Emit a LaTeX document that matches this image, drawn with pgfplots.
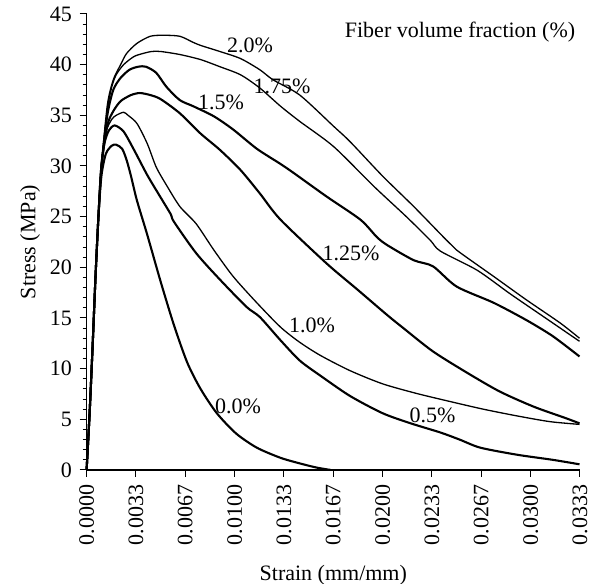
\documentclass[border=0pt]{standalone}
\usepackage{fontspec}
\setmainfont{Liberation Serif}
\usepackage{pgfplots}
\pgfplotsset{compat=1.18}
\begin{document}
\fontsize{11}{13}\selectfont
\begin{tikzpicture}
\begin{axis}[
  scale only axis,
  width=246.7pt, height=228pt,
  axis lines*=left,
  clip=false,
  xmin=0, xmax=0.0333333, ymin=0, ymax=45,
  xtick={0,0.0033333,0.0066667,0.01,0.0133333,0.0166667,0.02,0.0233333,0.0266667,0.03,0.0333333},
  xticklabels={0.0000,0.0033,0.0067,0.0100,0.0133,0.0167,0.0200,0.0233,0.0267,0.0300,0.0333},
  scaled x ticks=false,
  minor x tick num=9,
  ytick={0,5,...,45},
  minor y tick num=4,
  tick align=outside,
  major tick length=3.5pt, minor tick length=2pt,
  tick style={black, line width=0.5pt},
  axis line style={black, line width=0.6pt},
  xticklabel style={rotate=90, anchor=east},
  /pgf/number format/assume math mode=true,
  ticklabel style={font=\fontsize{11}{13}\selectfont},
  xlabel={Strain (mm/mm)},
  ylabel={Stress (MPa)},
  xlabel style={at={(axis description cs:0.5,-0.230)}, anchor=center},
  ylabel style={at={(axis description cs:-0.1147,0.5)}, anchor=center},
  every axis plot/.append style={black, line join=round, smooth, tension=0.45},
]
% 0.0%
\addplot[line width=1.05pt] coordinates {(0,0) (0.0002,5.5) (0.0004,12) (0.0006,19) (0.0008,25) (0.001,29) (0.0013,31.2) (0.0017,32) (0.002,32.1) (0.0024,31.7) (0.0027,30.6) (0.003,29) (0.0034,26.6) (0.0041,23.2) (0.005,18.6) (0.0059,14.3) (0.0068,10.6) (0.0077,8.0) (0.0088,5.6) (0.0101,3.6) (0.0115,2.2) (0.0131,1.2) (0.0144,0.65) (0.0155,0.25) (0.0165,0)};
% 0.5%
\addplot[line width=1.05pt] coordinates {(0,0) (0.0002,5.5) (0.0004,12) (0.0006,19) (0.0008,25) (0.001,29.8) (0.0012,32.2) (0.0015,33.5) (0.0019,34) (0.0025,33.4) (0.0032,31.6) (0.0041,29.1) (0.005,26.9) (0.0057,25.2) (0.0059,24.5) (0.0074,21.4) (0.009,18.8) (0.0108,16.1) (0.0117,15.1) (0.0131,12.8) (0.0144,10.8) (0.0158,9.3) (0.0178,7.3) (0.020,5.6) (0.0219,4.6) (0.0239,3.7) (0.0252,3.0) (0.0266,2.2) (0.0291,1.5) (0.0315,1.0) (0.0333,0.56)};
% 1.0%
\addplot[line width=0.65pt] coordinates {(0,0) (0.0002,5.5) (0.0004,12) (0.0006,19) (0.0008,25) (0.001,30) (0.0013,33.3) (0.0017,34.6) (0.002,35.0) (0.0025,35.3) (0.0028,35.0) (0.0034,34.2) (0.0041,32.2) (0.0047,29.9) (0.0054,28.1) (0.0063,26.0) (0.0074,24.3) (0.0086,21.7) (0.0099,19.1) (0.0115,16.5) (0.0131,14.1) (0.0144,12.6) (0.0158,11.3) (0.0178,9.8) (0.020,8.5) (0.0223,7.55) (0.0246,6.74) (0.0268,6.0) (0.0291,5.33) (0.0313,4.77) (0.0333,4.5)};
% 1.25%
\addplot[line width=1.05pt] coordinates {(0,0) (0.0002,5.5) (0.0004,12) (0.0006,19) (0.0008,25) (0.001,30) (0.0014,34) (0.0018,35.4) (0.0023,36.4) (0.003,37.0) (0.0036,37.2) (0.0043,37.0) (0.005,36.6) (0.0063,35.2) (0.0077,33.2) (0.009,31.6) (0.0104,29.6) (0.0117,27.3) (0.0131,24.7) (0.0162,20.4) (0.0183,17.8) (0.0203,15.3) (0.0214,14.0) (0.0234,11.7) (0.0257,9.6) (0.0279,7.75) (0.0302,6.25) (0.0324,5.1) (0.0333,4.6)};
% 1.5%
\addplot[line width=1.05pt] coordinates {(0,0) (0.0002,5.5) (0.0004,12) (0.0006,19) (0.0008,25) (0.001,30) (0.0014,35) (0.0018,37.5) (0.0023,38.7) (0.0029,39.5) (0.0035,39.8) (0.0040,39.8) (0.0047,39.2) (0.0054,37.8) (0.0063,36.5) (0.0072,35.9) (0.0086,34.9) (0.0099,33.6) (0.0115,31.7) (0.0131,30.2) (0.014,29.3) (0.0162,27.0) (0.0185,24.7) (0.0196,23.0) (0.0203,22.2) (0.0221,20.7) (0.0234,20.1) (0.025,18.1) (0.0275,16.5) (0.0297,14.8) (0.0315,13.2) (0.0333,11.2)};
% 1.75%
\addplot[line width=0.65pt] coordinates {(0,0) (0.0002,5.5) (0.0004,12) (0.0006,19) (0.0008,25) (0.001,30) (0.0014,35.5) (0.0017,37.8) (0.002,39.0) (0.0025,40.0) (0.0032,40.8) (0.0038,41.1) (0.0044,41.3) (0.005,41.3) (0.0063,41.0) (0.0077,40.5) (0.009,39.8) (0.0104,39.0) (0.0117,37.7) (0.0131,35.9) (0.0144,34.4) (0.0167,31.9) (0.0194,28.0) (0.0216,25.0) (0.0232,22.7) (0.0239,21.6) (0.0264,19.7) (0.0286,17.4) (0.0309,15.1) (0.0333,12.7)};
% 2.0%
\addplot[line width=0.65pt] coordinates {(0,0) (0.0002,5.5) (0.0004,12) (0.0006,19) (0.0008,25) (0.001,30) (0.0014,36) (0.0018,38.5) (0.0023,40.0) (0.0027,41.1) (0.0034,42.1) (0.0043,42.8) (0.0052,42.9) (0.0063,42.8) (0.0072,42.2) (0.0077,41.9) (0.009,41.3) (0.0104,40.6) (0.0117,39.5) (0.0126,38.5) (0.0144,37.0) (0.0167,33.9) (0.0178,32.4) (0.020,29.0) (0.0221,26.0) (0.0243,22.7) (0.025,21.7) (0.0275,19.1) (0.0297,16.8) (0.032,14.5) (0.0333,13.0)};
\node at (axis cs:0.01104,41.9) {2.0\%};
\node at (axis cs:0.0132,37.9) {1.75\%};
\node at (axis cs:0.00908,36.3) {1.5\%};
\node at (axis cs:0.01786,21.4) {1.25\%};
\node at (axis cs:0.01523,14.3) {1.0\%};
\node at (axis cs:0.02337,5.4) {0.5\%};
\node at (axis cs:0.01023,6.3) {0.0\%};
\node at (axis cs:0.02523,43.24) {Fiber volume fraction (\%)};
\end{axis}
\pgfresetboundingbox
\path (current axis.south west) ++(-43.3pt,-57pt) rectangle ([shift={(8pt,7pt)}]current axis.north east);
\end{tikzpicture}
\end{document}
